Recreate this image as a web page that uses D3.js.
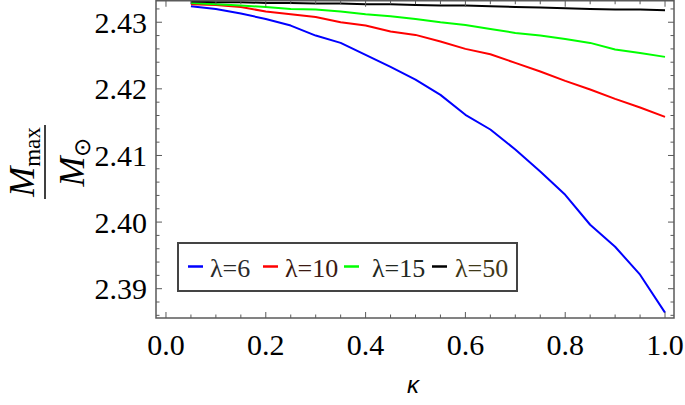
<!DOCTYPE html>
<html><head><meta charset="utf-8">
<script src="https://cdn.jsdelivr.net/npm/d3@7"></script>
<style>body{margin:0;background:#fff}svg{display:block}</style>
</head><body>
<svg id="c" width="685" height="405"></svg>
<script>
const kappa = [0.05,0.10,0.15,0.20,0.25,0.30,0.35,0.40,0.45,0.50,0.55,0.60,0.65,0.70,0.75,0.80,0.85,0.90,0.95,1.00];
const lam6  = [2.4324,2.4320,2.4313,2.4305,2.4295,2.4280,2.4269,2.4251,2.4233,2.4214,2.4191,2.4161,2.4139,2.4109,2.4076,2.4041,2.3996,2.3963,2.3921,2.3864];
const lam10 = [2.4327,2.4326,2.4323,2.4316,2.4312,2.4308,2.4300,2.4295,2.4286,2.4281,2.4271,2.4260,2.4252,2.4239,2.4226,2.4212,2.4199,2.4185,2.4172,2.4158];
const lam15 = [2.4329,2.4327,2.4325,2.4323,2.4320,2.4319,2.4316,2.4312,2.4309,2.4305,2.4300,2.4296,2.4290,2.4284,2.4280,2.4275,2.4269,2.4259,2.4254,2.4248];
const lam50 = [2.4331,2.4330,2.4330,2.4329,2.4329,2.4328,2.4328,2.4327,2.4327,2.4326,2.4325,2.4325,2.4324,2.4323,2.4322,2.4321,2.4320,2.4319,2.4319,2.4318];
const seriesNames = ["λ=6","λ=10","λ=15","λ=50"];
const seriesColors = ["#0000ff","#ff0000","#00ff00","#000000"];
const legendTextColors = ["#2a2a2a","#3c1a12","#222822","#3f3818"];
const xTicks = [0,0.2,0.4,0.6,0.8,1.0];
const xTickLabels = ["0.0","0.2","0.4","0.6","0.8","1.0"];
const yTicks = [2.39,2.40,2.41,2.42,2.43];
const yTickLabels = ["2.39","2.40","2.41","2.42","2.43"];

const svg = d3.select("#c");
const L=156, R=674, T=0.75, B=318;
const x = d3.scaleLinear().domain([-0.02,1.02]).range([L,R+1]);
const y = d3.scaleLinear().domain([2.3856,2.43334]).range([B,0]);
const frameColor = "#5a5a5a";

svg.append("defs").append("clipPath").attr("id","clip")
  .append("rect").attr("x",L).attr("y",0).attr("width",R-L).attr("height",B);

// lines
const allSeries = [lam6,lam10,lam15,lam50];
const line = d3.line().x((d,i)=>x(kappa[i])).y(d=>y(d));
const plot = svg.append("g").attr("clip-path","url(#clip)");
allSeries.forEach((s,k)=>{
  plot.append("path").datum(s).attr("d",line).attr("fill","none")
    .attr("stroke",seriesColors[k]).attr("stroke-width",2).attr("stroke-linejoin","round");
});

// ticks
const xMinor = d3.range(0,1.0001,0.05).filter(v=>xTicks.every(t=>Math.abs(t-v)>1e-6));
const yMinor = d3.range(2.386,2.4331,0.002).filter(v=>yTicks.every(t=>Math.abs(t-v)>1e-6));
const tk = svg.append("g").attr("stroke",frameColor).attr("stroke-width",1);
xTicks.forEach(v=>{ tk.append("line").attr("x1",x(v)).attr("x2",x(v)).attr("y1",B).attr("y2",B-6);
  tk.append("line").attr("x1",x(v)).attr("x2",x(v)).attr("y1",T).attr("y2",T+6);});
xMinor.forEach(v=>{ tk.append("line").attr("x1",x(v)).attr("x2",x(v)).attr("y1",B).attr("y2",B-3.5);
  tk.append("line").attr("x1",x(v)).attr("x2",x(v)).attr("y1",T).attr("y2",T+3.5);});
yTicks.forEach(v=>{ tk.append("line").attr("y1",y(v)).attr("y2",y(v)).attr("x1",L).attr("x2",L+6);
  tk.append("line").attr("y1",y(v)).attr("y2",y(v)).attr("x1",R).attr("x2",R-6);});
yMinor.forEach(v=>{ tk.append("line").attr("y1",y(v)).attr("y2",y(v)).attr("x1",L).attr("x2",L+3.5);
  tk.append("line").attr("y1",y(v)).attr("y2",y(v)).attr("x1",R).attr("x2",R-3.5);});

// frame
svg.append("rect").attr("x",L).attr("y",T).attr("width",R-L).attr("height",B-T)
  .attr("fill","none").attr("stroke",frameColor).attr("stroke-width",1.5);

// tick labels
const font = "'Liberation Serif','Times New Roman',serif";
xTicks.forEach((v,i)=>svg.append("text").attr("x",x(v)).attr("y",355)
  .attr("text-anchor","middle").attr("font-family",font).attr("font-size",30).attr("fill","#000").text(xTickLabels[i]));
yTicks.forEach((v,i)=>svg.append("text").attr("x",147).attr("y",y(v)).attr("dy","0.35em")
  .attr("text-anchor","end").attr("font-family",font).attr("font-size",30).attr("fill","#000").text(yTickLabels[i]));

// x label
svg.append("text").attr("x",413).attr("y",393).attr("text-anchor","middle")
  .attr("font-family","'Liberation Sans',Arial,sans-serif").attr("font-style","italic")
  .attr("font-size",24).text("κ");

// y label (fraction)
const yl = svg.append("g").attr("transform","translate(45,162) rotate(-90)");
const num = yl.append("text").attr("x",0).attr("y",-11).attr("text-anchor","middle").attr("font-family",font);
num.append("tspan").attr("font-style","italic").attr("font-size",36).text("M");
num.append("tspan").attr("font-size",23).attr("dy",6).text("max");
yl.append("line").attr("x1",-37).attr("x2",37).attr("y1",0).attr("y2",0).attr("stroke","#000").attr("stroke-width",1.5);
const den = yl.append("text").attr("x",0).attr("y",39).attr("text-anchor","middle").attr("font-family",font);
den.append("tspan").attr("font-style","italic").attr("font-size",36).text("M");
den.append("tspan").attr("font-size",23).attr("dy",6).text("⊙");

// legend
const lg = svg.append("g");
lg.append("rect").attr("x",178).attr("y",243).attr("width",339).attr("height",48)
  .attr("fill","#fff").attr("stroke","#444").attr("stroke-width",2);
const dashX = [188,263,344,432];
const textX = [210,285,372,455];
seriesNames.forEach((n,k)=>{
  lg.append("line").attr("x1",dashX[k]).attr("x2",dashX[k]+15).attr("y1",266.5).attr("y2",266.5)
    .attr("stroke",seriesColors[k]).attr("stroke-width",2.5);
  lg.append("text").attr("x",textX[k]).attr("y",277).attr("font-family",font).attr("font-size",26)
    .attr("fill",legendTextColors[k]).text(n);
});
</script>
</body></html>
